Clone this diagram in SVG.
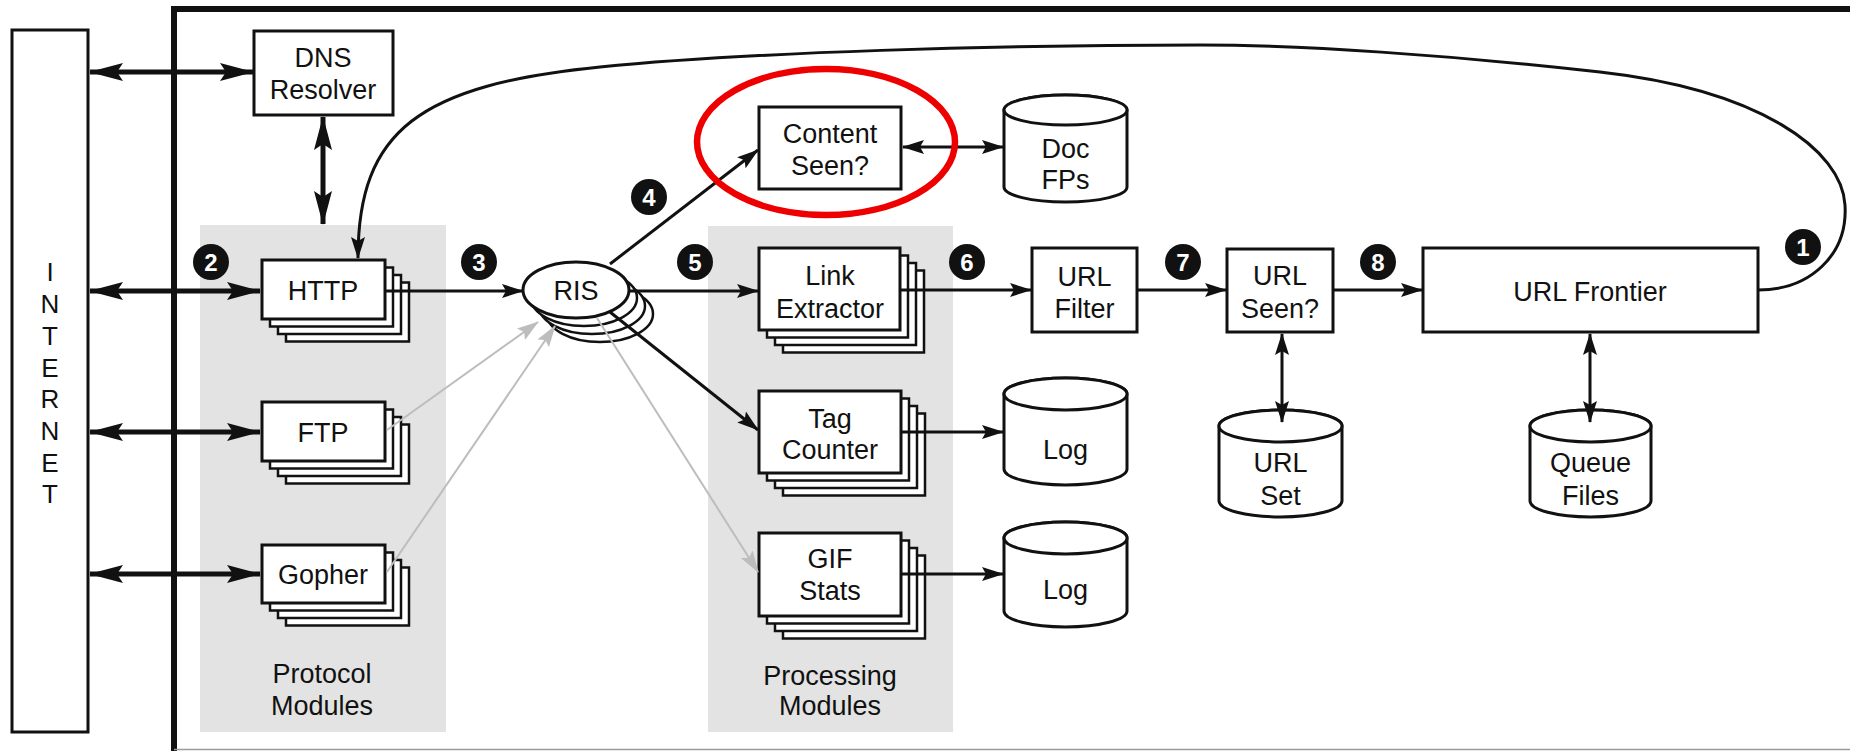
<svg xmlns="http://www.w3.org/2000/svg" width="1850" height="751" viewBox="0 0 1850 751">
<defs>
<style>
text{font-family:"Liberation Sans",Arial,Helvetica,sans-serif;font-size:27px;fill:#111;text-anchor:middle}
.box{fill:#fff;stroke:#111;stroke-width:3}
.back{fill:#fff;stroke:#111;stroke-width:2.5}
.area{fill:#e3e3e3;stroke:none}
.con{fill:none;stroke:#111;stroke-width:3}
.thick{fill:none;stroke:#111;stroke-width:5}
.grey{fill:none;stroke:#bdbdbd;stroke-width:2}
.badge circle{fill:#111}
.badge text{fill:#fff;font-weight:bold;font-size:24px}
.inet{font-size:26px}
</style>
<marker id="ah" markerUnits="userSpaceOnUse" markerWidth="22" markerHeight="16" viewBox="0 0 22 16" refX="21" refY="8" orient="auto-start-reverse"><path d="M0,1 L22,8 L0,15 L4,8 Z" fill="#111"/></marker>
<marker id="ahT" markerUnits="userSpaceOnUse" markerWidth="34" markerHeight="20" viewBox="0 0 34 20" refX="33" refY="10" orient="auto-start-reverse"><path d="M0,1 L34,10 L0,19 L6,10 Z" fill="#111"/></marker>
<marker id="ahG" markerUnits="userSpaceOnUse" markerWidth="22" markerHeight="16" viewBox="0 0 22 16" refX="21" refY="8" orient="auto-start-reverse"><path d="M0,1 L22,8 L0,15 L4,8 Z" fill="#bdbdbd"/></marker>
</defs>
<rect x="0" y="0" width="1850" height="751" fill="#fff"/>

<g id="frame">
<path d="M174,751 V9 H1850" fill="none" stroke="#111" stroke-width="6"/>
<line x1="174" y1="749.5" x2="1850" y2="749.5" stroke="#9a9a9a" stroke-width="1.5"/>
</g>

<g id="protocol-modules">
<rect class="area" x="200" y="225" width="246" height="507"/>
<text x="322" y="683">Protocol</text>
<text x="322" y="715">Modules</text>
</g>
<g id="processing-modules">
<rect class="area" x="708" y="226" width="245" height="506"/>
<text x="830" y="685">Processing</text>
<text x="830" y="715">Modules</text>
</g>

<g id="internet">
<rect class="box" x="12" y="30" width="76" height="702"/>
<text class="inet" x="50" y="281">I</text>
<text class="inet" x="50" y="313">N</text>
<text class="inet" x="50" y="345">T</text>
<text class="inet" x="50" y="377">E</text>
<text class="inet" x="50" y="408">R</text>
<text class="inet" x="50" y="440">N</text>
<text class="inet" x="50" y="472">E</text>
<text class="inet" x="50" y="503">T</text>
</g>

<g id="dns-resolver">
<rect class="box" x="254" y="31" width="139" height="84"/>
<text x="323" y="67">DNS</text>
<text x="323" y="99">Resolver</text>
</g>

<g id="http">
<rect class="back" x="286" y="282.5" width="123" height="59"/>
<rect class="back" x="278" y="275" width="123" height="59"/>
<rect class="back" x="270" y="267.5" width="123" height="59"/>
<rect class="box" x="262" y="260" width="123" height="59"/>
<text x="323" y="300">HTTP</text>
</g>
<g id="ftp">
<rect class="back" x="286" y="424.5" width="123" height="59"/>
<rect class="back" x="278" y="417" width="123" height="59"/>
<rect class="back" x="270" y="409.5" width="123" height="59"/>
<rect class="box" x="262" y="402" width="123" height="59"/>
<text x="323" y="442">FTP</text>
</g>
<g id="gopher">
<rect class="back" x="286" y="567.5" width="123" height="58"/>
<rect class="back" x="278" y="560" width="123" height="58"/>
<rect class="back" x="270" y="552.5" width="123" height="58"/>
<rect class="box" x="262" y="545" width="123" height="58"/>
<text x="323" y="584">Gopher</text>
</g>

<g id="ris">
<ellipse class="back" cx="600" cy="314" rx="53" ry="28"/>
<ellipse class="back" cx="592" cy="306" rx="53" ry="28"/>
<ellipse class="back" cx="584" cy="298" rx="53" ry="28"/>
<ellipse class="box" cx="576" cy="290" rx="53" ry="28"/>
<text x="576" y="300">RIS</text>
</g>

<g id="content-seen">
<rect class="box" x="759" y="107" width="142" height="82"/>
<text x="830" y="143">Content</text>
<text x="830" y="175">Seen?</text>
</g>
<g id="doc-fps">
<path class="box" d="M1004,110 A61.5,15 0 0 1 1127,110 V187 A61.5,15 0 0 1 1004,187 Z"/>
<ellipse class="box" cx="1065.5" cy="110" rx="61.5" ry="15"/>
<text x="1065.5" y="158">Doc</text>
<text x="1065.5" y="189">FPs</text>
</g>

<g id="link-extractor">
<rect class="back" x="783" y="270.5" width="141" height="82"/>
<rect class="back" x="775" y="263" width="141" height="82"/>
<rect class="back" x="767" y="255.5" width="141" height="82"/>
<rect class="box" x="759" y="248" width="141" height="82"/>
<text x="830" y="285">Link</text>
<text x="830" y="318">Extractor</text>
</g>
<g id="tag-counter">
<rect class="back" x="783" y="413.5" width="142" height="82"/>
<rect class="back" x="775" y="406" width="142" height="82"/>
<rect class="back" x="767" y="398.5" width="142" height="82"/>
<rect class="box" x="759" y="391" width="142" height="82"/>
<text x="830" y="428">Tag</text>
<text x="830" y="459">Counter</text>
</g>
<g id="gif-stats">
<rect class="back" x="783" y="555.5" width="142" height="83"/>
<rect class="back" x="775" y="548" width="142" height="83"/>
<rect class="back" x="767" y="540.5" width="142" height="83"/>
<rect class="box" x="759" y="533" width="142" height="83"/>
<text x="830" y="568">GIF</text>
<text x="830" y="600">Stats</text>
</g>
<g id="log-1">
<path class="box" d="M1004,394 A61.5,16 0 0 1 1127,394 V469 A61.5,16 0 0 1 1004,469 Z"/>
<ellipse class="box" cx="1065.5" cy="394" rx="61.5" ry="16"/>
<text x="1065.5" y="459">Log</text>
</g>
<g id="log-2">
<path class="box" d="M1004,538 A61.5,16 0 0 1 1127,538 V611 A61.5,16 0 0 1 1004,611 Z"/>
<ellipse class="box" cx="1065.5" cy="538" rx="61.5" ry="16"/>
<text x="1065.5" y="599">Log</text>
</g>

<g id="url-filter">
<rect class="box" x="1032" y="248" width="105" height="84"/>
<text x="1084.5" y="286">URL</text>
<text x="1084.5" y="318">Filter</text>
</g>
<g id="url-seen">
<rect class="box" x="1227" y="249" width="106" height="83"/>
<text x="1280" y="285">URL</text>
<text x="1280" y="318">Seen?</text>
</g>
<g id="url-set">
<path class="box" d="M1219,426 A61.5,16 0 0 1 1342,426 V501 A61.5,16 0 0 1 1219,501 Z"/>
<ellipse class="box" cx="1280.5" cy="426" rx="61.5" ry="16"/>
<text x="1280.5" y="472">URL</text>
<text x="1280.5" y="505">Set</text>
</g>
<g id="url-frontier">
<rect class="box" x="1423" y="248" width="335" height="84"/>
<text x="1590" y="301">URL Frontier</text>
</g>
<g id="queue-files">
<path class="box" d="M1530,426 A60.5,16 0 0 1 1651,426 V501 A60.5,16 0 0 1 1530,501 Z"/>
<ellipse class="box" cx="1590.5" cy="426" rx="60.5" ry="16"/>
<text x="1590.5" y="472">Queue</text>
<text x="1590.5" y="505">Files</text>
</g>

<g id="connectors">
<line class="thick" x1="90" y1="72" x2="253" y2="72" marker-start="url(#ahT)" marker-end="url(#ahT)"/>
<line class="thick" x1="90" y1="291" x2="260" y2="291" marker-start="url(#ahT)" marker-end="url(#ahT)"/>
<line class="thick" x1="90" y1="432" x2="260" y2="432" marker-start="url(#ahT)" marker-end="url(#ahT)"/>
<line class="thick" x1="90" y1="574" x2="260" y2="574" marker-start="url(#ahT)" marker-end="url(#ahT)"/>
<line class="thick" x1="323" y1="117" x2="323" y2="224" marker-start="url(#ahT)" marker-end="url(#ahT)"/>
<path class="con" d="M1758,290 C1810,290 1848,255 1845,205 C1842,150 1760,90 1600,72 C1450,55 1300,45 1200,45 C1000,45 750,52 600,67 C420,85 358,130 358,258" marker-end="url(#ah)"/>
<line class="con" x1="385" y1="291" x2="523" y2="291" marker-end="url(#ah)"/>
<line class="grey" x1="387" y1="430" x2="538" y2="322" marker-end="url(#ahG)"/>
<line class="grey" x1="387" y1="572" x2="555" y2="326" marker-end="url(#ahG)"/>
<line class="grey" x1="597" y1="318" x2="758" y2="572" marker-end="url(#ahG)"/>
<line class="con" x1="610" y1="264" x2="758" y2="150" marker-end="url(#ah)"/>
<line class="con" x1="629" y1="291" x2="758" y2="291" marker-end="url(#ah)"/>
<line class="con" x1="610" y1="312" x2="758" y2="430" marker-end="url(#ah)"/>
<line class="con" x1="903" y1="147" x2="1003" y2="147" marker-start="url(#ah)" marker-end="url(#ah)"/>
<line class="con" x1="900" y1="290" x2="1031" y2="290" marker-end="url(#ah)"/>
<line class="con" x1="901" y1="432" x2="1003" y2="432" marker-end="url(#ah)"/>
<line class="con" x1="901" y1="574" x2="1003" y2="574" marker-end="url(#ah)"/>
<line class="con" x1="1137" y1="290" x2="1226" y2="290" marker-end="url(#ah)"/>
<line class="con" x1="1333" y1="290" x2="1422" y2="290" marker-end="url(#ah)"/>
<line class="con" x1="1282" y1="334" x2="1282" y2="422" marker-start="url(#ah)" marker-end="url(#ah)"/>
<line class="con" x1="1590" y1="334" x2="1590" y2="422" marker-start="url(#ah)" marker-end="url(#ah)"/>
</g>

<g id="badges">
<g class="badge"><circle cx="1803" cy="247" r="18"/><text x="1803" y="256">1</text></g>
<g class="badge"><circle cx="211" cy="262" r="18"/><text x="211" y="271">2</text></g>
<g class="badge"><circle cx="479" cy="262" r="18"/><text x="479" y="271">3</text></g>
<g class="badge"><circle cx="649" cy="197" r="18"/><text x="649" y="206">4</text></g>
<g class="badge"><circle cx="695" cy="262" r="18"/><text x="695" y="271">5</text></g>
<g class="badge"><circle cx="967" cy="262" r="18"/><text x="967" y="271">6</text></g>
<g class="badge"><circle cx="1183" cy="262" r="18"/><text x="1183" y="271">7</text></g>
<g class="badge"><circle cx="1378" cy="262" r="18"/><text x="1378" y="271">8</text></g>
</g>

<g id="highlight">
<ellipse cx="826" cy="142" rx="129" ry="73" fill="none" stroke="#ee0000" stroke-width="6.5"/>
</g>
</svg>
